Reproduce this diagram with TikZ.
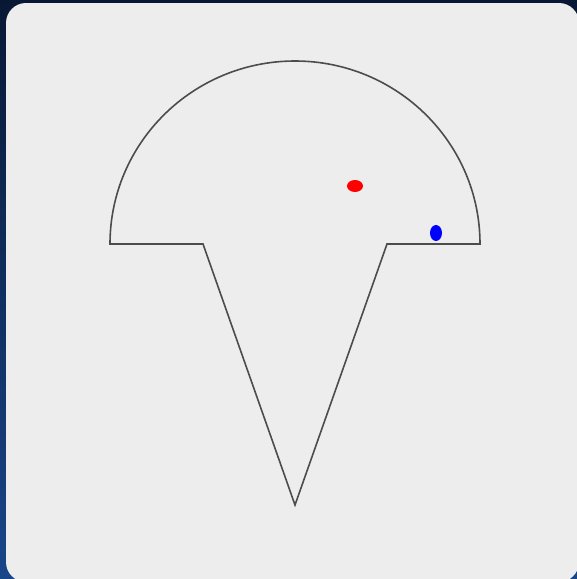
\documentclass[tikz,border=0pt]{standalone}
\begin{document}
\begin{tikzpicture}[x=1pt,y=-1pt,
  outline/.style={draw=black!70,line width=1.6pt,line join=miter}]
\useasboundingbox (0,0) rectangle (577,579);
\shade[top color={rgb,255:red,8;green,24;blue,52},bottom color={rgb,255:red,24;green,70;blue,138}] (0,0) rectangle (577,579);
\fill[black!7,rounded corners=20pt] (6,3) rectangle (579,582);
\draw[outline] (110,244) arc[start angle=180,end angle=360,x radius=185,y radius=183]
  -- (387,244) -- (295,505) -- (203,244) -- cycle;
\fill[red] (355,186) ellipse[x radius=8,y radius=6];
\fill[blue] (436,233) ellipse[x radius=6,y radius=8];
\end{tikzpicture}
\end{document}
